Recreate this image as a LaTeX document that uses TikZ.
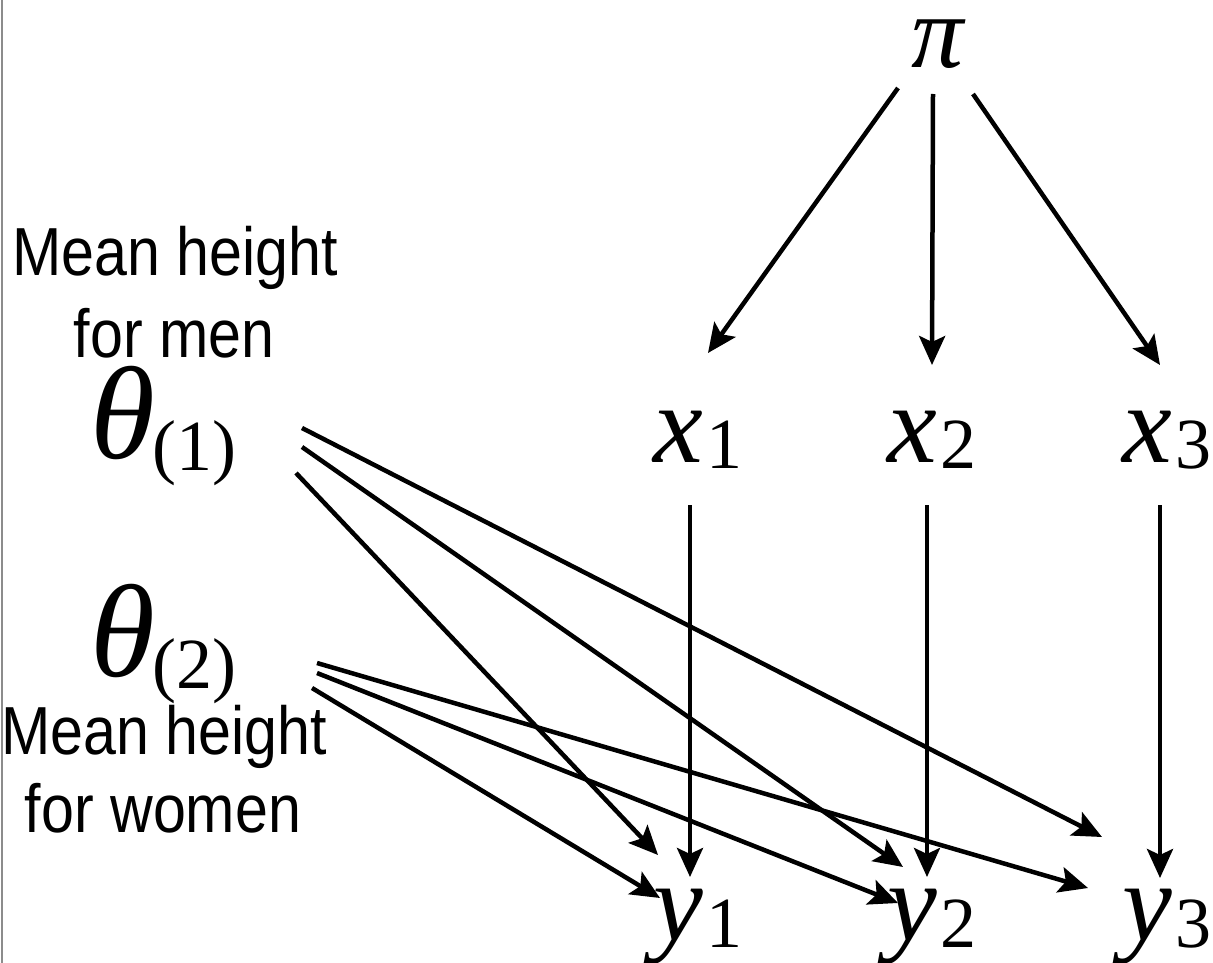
\documentclass[tikz,border=0pt]{standalone}
\usepackage{fontspec}
\setmainfont{Liberation Serif}
\newfontfamily\labfont[FakeStretch=0.87]{Liberation Sans}
\usetikzlibrary{arrows.meta}
\newcommand\mv[2][112]{{\fontsize{#1}{#1}\selectfont\itshape #2}}
\newcommand\sv[2]{\raisebox{-#1}{\fontsize{72}{72}\selectfont #2}}
\tikzset{
  var/.style={anchor=base, inner sep=0pt},
  varw/.style={anchor=base west, inner sep=0pt},
  lab/.style={anchor=base, inner sep=0pt, font=\labfont\fontsize{68}{68}\selectfont},
  arr/.style={line width=4.5pt, -{Stealth[length=29pt,width=26pt,inset=6pt]}}
}
\begin{document}
\begin{tikzpicture}[x=1pt,y=-1pt]
\useasboundingbox (0,0) rectangle (1213,963);
\draw[line width=2pt, black!45] (1.5,0) -- (1.5,963);

% variables
\node[var]  (pi) at (938,68)  {\mv[104]{\smash{π}}};
\node[varw] (x1) at (653,462) {\mv{x}\kern4pt\sv{6pt}{1}};
\node[varw] (x2) at (887,462) {\mv{x}\kern4pt\sv{6pt}{2}};
\node[varw] (x3) at (1122,462) {\mv{x}\kern4pt\sv{6pt}{3}};
\node[varw] (y1) at (653,940) {\mv{y}\kern4pt\sv{7pt}{1}};
\node[varw] (y2) at (887,940) {\mv{y}\kern4pt\sv{7pt}{2}};
\node[varw] (y3) at (1122,940) {\mv{y}\kern4pt\sv{7pt}{3}};
\node[varw] (t1) at (90,458) {\mv[132]{θ}\kern-3pt\sv{12pt}{(1)}};
\node[varw] (t2) at (90,676) {\mv[132]{θ}\kern-3pt\sv{12pt}{(2)}};

% labels
\node[lab] (m1) at (175,275) {Mean height};
\node[lab] (m2) at (174,357) {for men};
\node[lab] (w1) at (164,754) {Mean height};
\node[lab] (w2) at (163,832) {for women};

% connector ports
\coordinate (pA) at (898,88);   \coordinate (x1in) at (708,353);
\coordinate (pB) at (933,94);   \coordinate (x2in) at (932,365);
\coordinate (pC) at (973,94);   \coordinate (x3in) at (1160,365);
\coordinate (x1o) at (690,505); \coordinate (y1a) at (690,877);
\coordinate (x2o) at (927,505); \coordinate (y2a) at (927,877);
\coordinate (x3o) at (1160,505);\coordinate (y3a) at (1160,878);
\coordinate (t1a) at (302,428); \coordinate (y3b) at (1102,837);
\coordinate (t1b) at (302,447); \coordinate (y2b) at (903,867);
\coordinate (t1c) at (296,473); \coordinate (y1b) at (658,855);
\coordinate (t2a) at (317,663); \coordinate (y3c) at (1088,888);
\coordinate (t2b) at (317,673); \coordinate (y2c) at (898,903);
\coordinate (t2c) at (312,688); \coordinate (y1c) at (660,898);

\draw[arr] (pA) -- (x1in);
\draw[arr] (pB) -- (x2in);
\draw[arr] (pC) -- (x3in);
\draw[arr] (x1o) -- (y1a);
\draw[arr] (x2o) -- (y2a);
\draw[arr] (x3o) -- (y3a);
\draw[arr] (t1a) -- (y3b);
\draw[arr] (t1b) -- (y2b);
\draw[arr] (t1c) -- (y1b);
\draw[arr] (t2a) -- (y3c);
\draw[arr] (t2b) -- (y2c);
\draw[arr] (t2c) -- (y1c);
\end{tikzpicture}
\end{document}
